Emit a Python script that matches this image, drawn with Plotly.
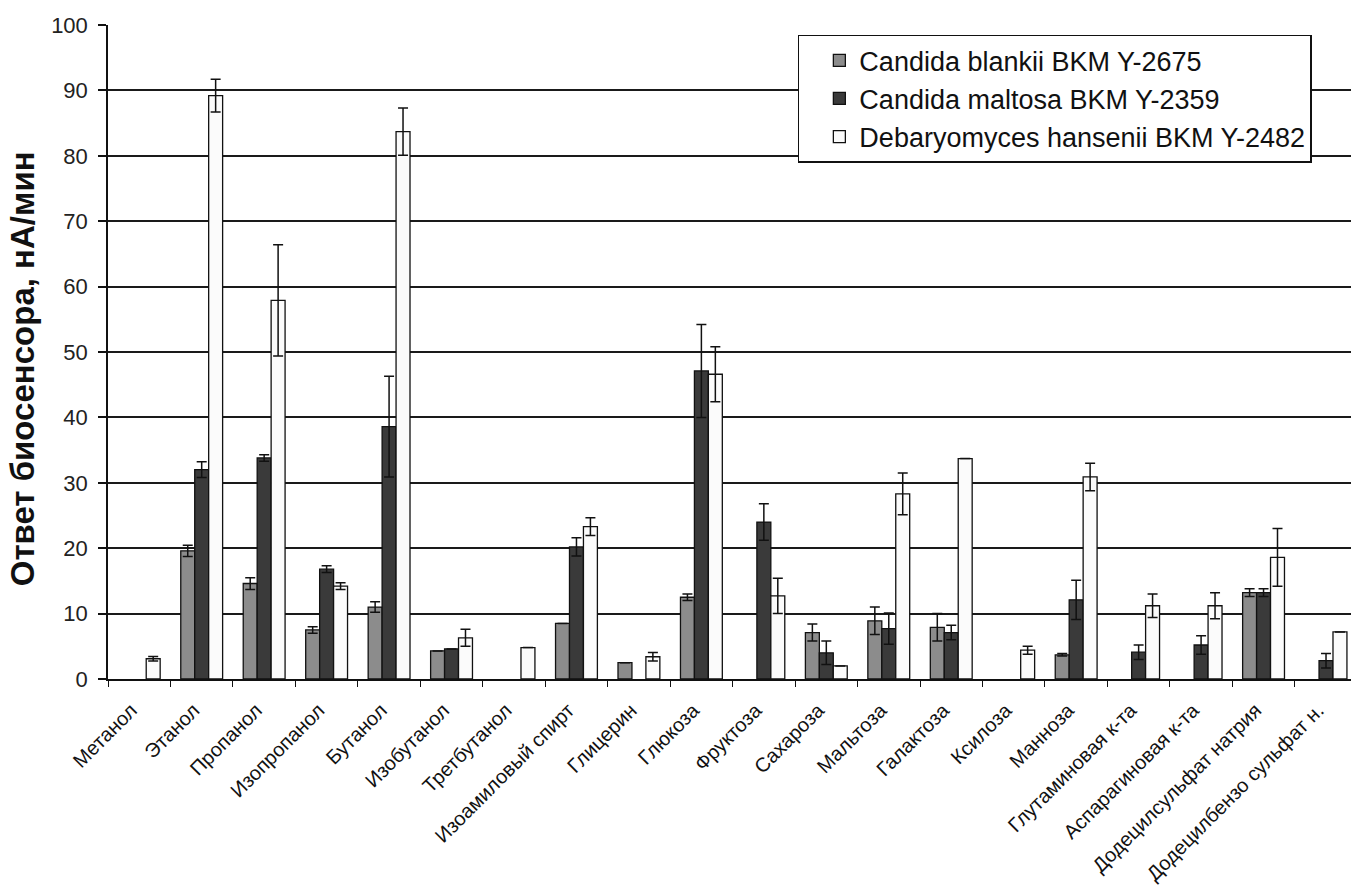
import plotly.graph_objects as go

# Substrate specificity of yeast-based biosensors
categories = [
    "Метанол", "Этанол", "Пропанол", "Изопропанол", "Бутанол", "Изобутанол",
    "Третбутанол", "Изоамиловый спирт", "Глицерин", "Глюкоза", "Фруктоза",
    "Сахароза", "Мальтоза", "Галактоза", "Ксилоза", "Манноза",
    "Глутаминовая к-та", "Аспарагиновая к-та", "Додецилсульфат натрия",
    "Додецилбензо сульфат н.",
]

series_names = [
    "Candida blankii BKM Y-2675",
    "Candida maltosa BKM Y-2359",
    "Debaryomyces hansenii BKM Y-2482",
]

blankii = [None, 19.6, 14.6, 7.5, 11.0, 4.3, None, 8.5, 2.5, 12.5,
           None, 7.1, 8.9, 7.9, None, 3.7, None, None, 13.2, None]
blankii_err = [None, 0.85, 0.9, 0.5, 0.8, None, None, None, None, 0.5,
               None, 1.3, 2.1, 2.1, None, 0.2, None, None, 0.6, None]

maltosa = [None, 32.0, 33.8, 16.8, 38.6, 4.6, None, 20.2, None, 47.1,
           24.0, 4.0, 7.7, 7.1, None, 12.1, 4.1, 5.2, 13.2, 2.8]
maltosa_err = [None, 1.2, 0.5, 0.5, 7.7, None, None, 1.4, None, 7.1,
               2.8, 1.8, 2.4, 1.1, None, 3.0, 1.1, 1.4, 0.6, 1.1]

hansenii = [3.1, 89.2, 57.9, 14.2, 83.7, 6.3, 4.8, 23.3, 3.4, 46.6,
            12.7, 2.0, 28.3, 33.7, 4.4, 30.9, 11.2, 11.2, 18.6, 7.2]
hansenii_err = [0.35, 2.5, 8.5, 0.5, 3.6, 1.3, None, 1.35, 0.65, 4.2,
                2.7, None, 3.2, None, 0.6, 2.1, 1.8, 2.0, 4.4, None]

y_title = "Ответ биосенсора, нА/мин"

fills = ["#8c8c8c", "#3a3a3a", "#fbfbfb"]

FONT = "Liberation Sans, Arial, sans-serif"

fig = go.Figure()
for name, vals, errs, color in zip(
    series_names,
    [blankii, maltosa, hansenii],
    [blankii_err, maltosa_err, hansenii_err],
    fills,
):
    fig.add_trace(go.Bar(
        name=name,
        x=categories,
        y=vals,
        marker=dict(color=color, line=dict(color="#111111", width=1.3)),
        error_y=dict(type="data", array=errs, visible=True,
                     color="#111111", thickness=1.5, width=5),
    ))

# vertical axis caption, placed beside the tick labels
fig.add_annotation(
    text=f"<b>{y_title}</b>",
    xref="paper", yref="paper",
    x=-0.069, y=0.474,
    xanchor="center", yanchor="middle",
    textangle=-90, showarrow=False,
    font=dict(size=33, color="#111111", family=FONT),
)

fig.update_layout(
    width=1351,
    height=888,
    margin=dict(l=108, r=0, t=25, b=209),
    paper_bgcolor="white",
    plot_bgcolor="white",
    barmode="group",
    bargap=0.33,
    bargroupgap=0,
    font=dict(family=FONT, color="#222222"),
    legend=dict(
        x=0.555, y=0.985, xanchor="left", yanchor="top",
        bgcolor="white", bordercolor="#111111", borderwidth=1.5,
        font=dict(size=27, color="#111111", family=FONT),
        indentation=20,
        tracegroupgap=0,
    ),
    xaxis=dict(
        type="category",
        range=[-0.5, 19.4],
        showgrid=False,
        showline=True, linecolor="#111111", linewidth=1.5,
        ticks="outside", tickson="boundaries", ticklen=6,
        tickcolor="#111111", tickwidth=1.3,
        tickangle=-45,
        tickfont=dict(size=20, color="#111111"),
        ticklabelstandoff=10,
        ticklabelshift=-8,
    ),
    yaxis=dict(
        range=[0, 100],
        tick0=0, dtick=10,
        showgrid=True, gridcolor="#1a1a1a", gridwidth=1.6,
        showline=True, linecolor="#111111", linewidth=1.5,
        ticks="outside", ticklen=8, tickcolor="#111111", tickwidth=1.5,
        tickfont=dict(size=22, color="#222222"),
        ticklabelstandoff=6,
        zeroline=False,
    ),
)

fig.write_html("out.html")
